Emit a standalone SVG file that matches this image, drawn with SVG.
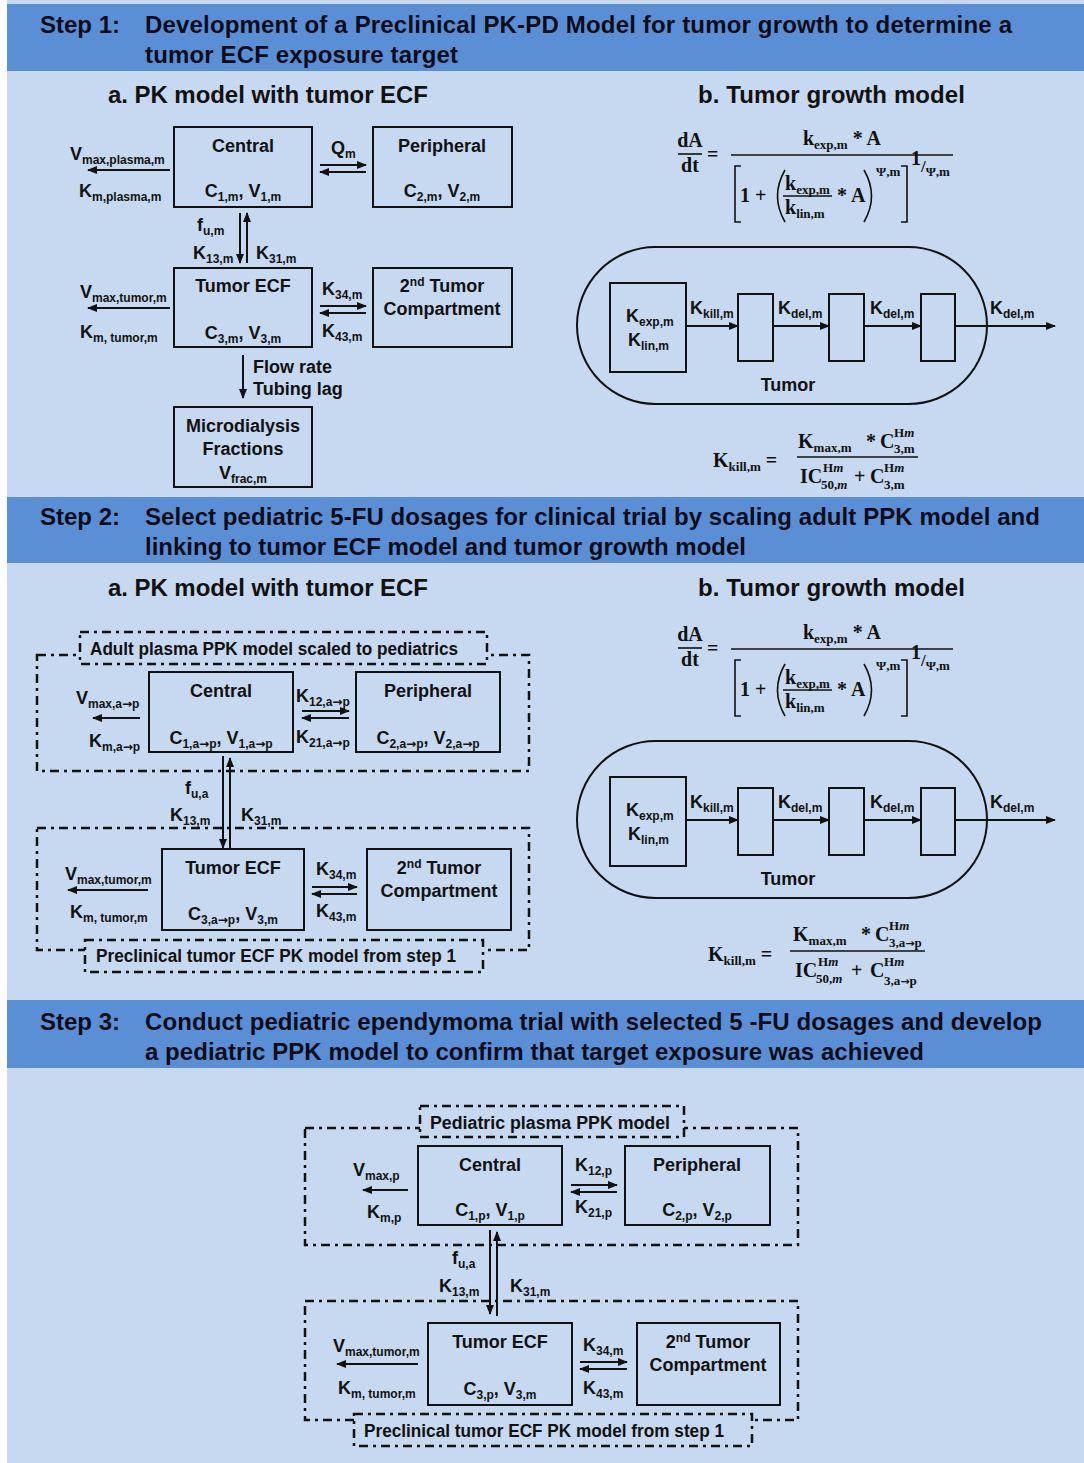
<svg xmlns="http://www.w3.org/2000/svg" width="1084" height="1463" viewBox="0 0 1084 1463">
<defs>
<style>
.bg{fill:#c6d9f0}
.band{fill:#5a8fd6}
.hd{font-family:"Liberation Sans",Arial,sans-serif;font-weight:bold;font-size:24px;fill:#0d0d1a}
.tt{font-family:"Liberation Sans",Arial,sans-serif;font-weight:bold;font-size:24px;fill:#111}
.m{font-family:"Liberation Sans",Arial,sans-serif;font-weight:bold;font-size:18px;fill:#111}
.s{font-size:12px}
.arw{font-family:"DejaVu Sans",sans-serif;font-weight:bold}
.box{fill:none;stroke:#111;stroke-width:2}
.dash{fill:none;stroke:#111;stroke-width:2.5;stroke-dasharray:9 5 3 5}
.dashl{fill:#c6d9f0;stroke:#111;stroke-width:2.5;stroke-dasharray:9 5 3 5}
.ar{fill:none;stroke:#111;stroke-width:2;marker-end:url(#ah)}
.ln{fill:none;stroke:#111;stroke-width:1.6}
.eq{font-family:"Liberation Serif","DejaVu Serif",serif;font-weight:bold;font-size:20px;fill:#111}
.es{font-size:13px}
.it{font-style:italic}
</style>
<marker id="ah" markerUnits="userSpaceOnUse" markerWidth="10" markerHeight="8" refX="9" refY="4" orient="auto">
<path d="M0,0 L10,4 L0,8 z" fill="#111"/>
</marker>
</defs>

<rect x="0" y="0" width="1084" height="1463" fill="#ffffff"/>
<rect class="bg" x="7" y="0" width="1077" height="1463"/>
<rect class="band" x="7" y="4" width="1077" height="67"/>
<rect class="band" x="7" y="497" width="1077" height="66"/>
<rect class="band" x="7" y="1000" width="1077" height="68"/>

<g id="headers">
<text class="hd" x="40" y="33">Step 1:</text>
<text class="hd" x="145" y="33" textLength="867" lengthAdjust="spacing">Development of a Preclinical  PK-PD Model for tumor growth  to determine a</text>
<text class="hd" x="145" y="63" textLength="313" lengthAdjust="spacing">tumor ECF exposure target</text>
<text class="hd" x="40" y="525">Step 2:</text>
<text class="hd" x="145" y="525" textLength="895" lengthAdjust="spacing">Select pediatric 5-FU dosages for clinical trial by scaling adult PPK model and</text>
<text class="hd" x="145" y="555" textLength="601" lengthAdjust="spacing">linking to tumor ECF model and tumor growth model</text>
<text class="hd" x="40" y="1030">Step 3:</text>
<text class="hd" x="145" y="1030" textLength="897" lengthAdjust="spacing">Conduct pediatric ependymoma trial with selected 5 -FU dosages and develop</text>
<text class="hd" x="145" y="1060" textLength="779" lengthAdjust="spacing">a pediatric PPK model to confirm that target exposure was achieved</text>
<text class="tt" x="108" y="103" textLength="320" lengthAdjust="spacing">a. PK model with tumor ECF</text>
<text class="tt" x="698" y="103" textLength="267" lengthAdjust="spacing">b. Tumor growth model</text>
<text class="tt" x="108" y="596" textLength="320" lengthAdjust="spacing">a. PK model with tumor ECF</text>
<text class="tt" x="698" y="596" textLength="267" lengthAdjust="spacing">b. Tumor growth model</text>
</g>

<!-- ===== STEP 1 a ===== -->
<g id="s1-central">
<rect class="box" x="174" y="127" width="138" height="80"/>
<text class="m" x="243" y="152" text-anchor="middle">Central</text>
<text class="m" x="243" y="197" text-anchor="middle">C<tspan class="s" dy="4">1,m</tspan><tspan dy="-4">, V</tspan><tspan class="s" dy="4">1,m</tspan></text>
</g>
<g id="s1-peripheral">
<rect class="box" x="373" y="127" width="139" height="80"/>
<text class="m" x="442" y="152" text-anchor="middle">Peripheral</text>
<text class="m" x="442" y="197" text-anchor="middle">C<tspan class="s" dy="4">2,m</tspan><tspan dy="-4">, V</tspan><tspan class="s" dy="4">2,m</tspan></text>
</g>
<g id="s1-tumorecf">
<rect class="box" x="174" y="268" width="138" height="79"/>
<text class="m" x="243" y="292" text-anchor="middle">Tumor ECF</text>
<text class="m" x="243" y="339" text-anchor="middle">C<tspan class="s" dy="4">3,m</tspan><tspan dy="-4">, V</tspan><tspan class="s" dy="4">3,m</tspan></text>
</g>
<g id="s1-tumor2">
<rect class="box" x="373" y="268" width="139" height="79"/>
<text class="m" x="442" y="292" text-anchor="middle">2<tspan class="s" dy="-6">nd</tspan><tspan dy="6"> Tumor</tspan></text>
<text class="m" x="442" y="315" text-anchor="middle">Compartment</text>
</g>
<g id="s1-micro">
<rect class="box" x="174" y="407" width="138" height="80"/>
<text class="m" x="243" y="432" text-anchor="middle">Microdialysis</text>
<text class="m" x="243" y="455" text-anchor="middle">Fractions</text>
<text class="m" x="243" y="479" text-anchor="middle">V<tspan class="s" dy="4">frac,m</tspan></text>
</g>
<g id="s1-labels">
<text class="m" x="70" y="160">V<tspan class="s" dy="4">max,plasma,m</tspan></text>
<text class="m" x="79" y="197">K<tspan class="s" dy="4">m,plasma,m</tspan></text>
<text class="m" x="331" y="154">Q<tspan class="s" dy="4">m</tspan></text>
<text class="m" x="197" y="231">f<tspan class="s" dy="4">u,m</tspan></text>
<text class="m" x="193" y="259">K<tspan class="s" dy="4">13,m</tspan></text>
<text class="m" x="256" y="259">K<tspan class="s" dy="4">31,m</tspan></text>
<text class="m" x="80" y="298">V<tspan class="s" dy="4">max,tumor,m</tspan></text>
<text class="m" x="80" y="338">K<tspan class="s" dy="4">m, tumor,m</tspan></text>
<text class="m" x="322" y="295">K<tspan class="s" dy="4">34,m</tspan></text>
<text class="m" x="322" y="337">K<tspan class="s" dy="4">43,m</tspan></text>
<text class="m" x="253" y="373">Flow rate</text>
<text class="m" x="253" y="395">Tubing lag</text>
</g>

<!-- ===== STEP 1 b ===== -->
<g id="s1-growth-eq">
<text class="eq" x="690" y="147" font-size="17" text-anchor="middle">dA</text>
<line class="ln" x1="678" y1="154" x2="702" y2="154"/>
<text class="eq" x="690" y="172" font-size="17" text-anchor="middle">dt</text>
<text class="eq" x="707" y="161" font-size="18">=</text>
<text class="eq" x="842" y="145" text-anchor="middle">k<tspan class="es" dy="4">exp,m</tspan><tspan dy="-4"> * A</tspan></text>
<line class="ln" x1="731" y1="155" x2="953" y2="155"/>
<path class="ln" d="M741,166 L735,166 L735,222 L741,222"/>
<text class="eq" x="740" y="202">1 +</text>
<path class="ln" d="M785,170 Q770,196 785,222"/>
<text class="eq" x="785" y="190">k<tspan class="es" dy="4">exp,m</tspan></text>
<line class="ln" x1="783" y1="196" x2="832" y2="196"/>
<text class="eq" x="785" y="214">k<tspan class="es" dy="4">lin,m</tspan></text>
<text class="eq" x="837" y="202">* A</text>
<path class="ln" d="M864,170 Q879,196 864,222"/>
<text class="eq es" x="876" y="176">Ψ,m</text>
<path class="ln" d="M901,166 L907,166 L907,222 L901,222"/>
<text class="eq" x="911" y="165" font-size="14">1<tspan font-size="17" dy="7">/</tspan><tspan class="es" dy="4">Ψ,m</tspan></text>
</g>
<g id="s1-tumor">
<rect x="577" y="247" width="410" height="157" rx="78.5" ry="78.5" fill="none" stroke="#111" stroke-width="2"/>
<rect class="box" x="610" y="283" width="76" height="89"/>
<rect class="box" x="738" y="294" width="35" height="67"/>
<rect class="box" x="829" y="294" width="35" height="67"/>
<rect class="box" x="921" y="294" width="34" height="67"/>
<text class="m" x="626" y="322">K<tspan class="s" dy="4">exp,m</tspan></text>
<text class="m" x="628" y="346">K<tspan class="s" dy="4">lin,m</tspan></text>
<text class="m" x="690" y="314">K<tspan class="s" dy="4">kill,m</tspan></text>
<text class="m" x="778" y="314">K<tspan class="s" dy="4">del,m</tspan></text>
<text class="m" x="870" y="314">K<tspan class="s" dy="4">del,m</tspan></text>
<text class="m" x="990" y="314">K<tspan class="s" dy="4">del,m</tspan></text>
<text class="m" x="788" y="391" text-anchor="middle">Tumor</text>
</g>
<g id="s1-kill-eq">
<text class="eq" x="713" y="467">K<tspan class="es" dy="4">kill,m</tspan><tspan dy="-4"> =</tspan></text>
<text class="eq" x="798" y="448">K<tspan class="es" dy="4">max,m</tspan></text>
<text class="eq" x="866" y="448" font-size="14">*</text>
<text class="eq" x="880" y="448">C</text>
<text class="eq es" x="894" y="437">H<tspan class="it">m</tspan></text>
<text class="eq es" x="894" y="453">3,m</text>
<line class="ln" x1="797" y1="457" x2="918" y2="457"/>
<text class="eq" x="800" y="483">IC</text>
<text class="eq es" x="823" y="472">H<tspan class="it">m</tspan></text>
<text class="eq es" x="821" y="489">50,<tspan class="it">m</tspan></text>
<text class="eq" x="854" y="483">+</text>
<text class="eq" x="870" y="483">C</text>
<text class="eq es" x="884" y="472">H<tspan class="it">m</tspan></text>
<text class="eq es" x="884" y="489">3,m</text>
</g>

<!-- ===== STEP 2 a ===== -->
<g id="s2-adult-group">
<rect class="dash" x="37" y="655" width="492" height="116"/>
<rect class="dashl" x="80" y="632" width="407" height="32"/>
<text class="m" x="90" y="655" textLength="368" lengthAdjust="spacingAndGlyphs">Adult plasma PPK model scaled to pediatrics</text>
</g>
<g id="s2-central">
<rect class="box" x="149" y="672" width="144" height="80"/>
<text class="m" x="221" y="697" text-anchor="middle">Central</text>
<text class="m" x="221" y="744" text-anchor="middle">C<tspan class="s" dy="4">1,a<tspan class="arw">→</tspan>p</tspan><tspan dy="-4">, V</tspan><tspan class="s" dy="4">1,a<tspan class="arw">→</tspan>p</tspan></text>
</g>
<g id="s2-peripheral">
<rect class="box" x="356" y="672" width="144" height="80"/>
<text class="m" x="428" y="697" text-anchor="middle">Peripheral</text>
<text class="m" x="428" y="744" text-anchor="middle">C<tspan class="s" dy="4">2,a<tspan class="arw">→</tspan>p</tspan><tspan dy="-4">, V</tspan><tspan class="s" dy="4">2,a<tspan class="arw">→</tspan>p</tspan></text>
</g>
<g id="s2-tumor-group">
<rect class="dash" x="37" y="828" width="492" height="122"/>
<rect class="dashl" x="85" y="940" width="398" height="32"/>
<text class="m" x="96" y="962" textLength="360" lengthAdjust="spacingAndGlyphs">Preclinical tumor ECF PK model from step 1</text>
</g>
<g id="s2-tumorecf">
<rect class="box" x="162" y="849" width="142" height="81"/>
<text class="m" x="233" y="874" text-anchor="middle">Tumor ECF</text>
<text class="m" x="233" y="920" text-anchor="middle">C<tspan class="s" dy="4">3,a<tspan class="arw">→</tspan>p</tspan><tspan dy="-4">, V</tspan><tspan class="s" dy="4">3,m</tspan></text>
</g>
<g id="s2-tumor2">
<rect class="box" x="367" y="849" width="144" height="81"/>
<text class="m" x="439" y="874" text-anchor="middle">2<tspan class="s" dy="-6">nd</tspan><tspan dy="6"> Tumor</tspan></text>
<text class="m" x="439" y="897" text-anchor="middle">Compartment</text>
</g>
<g id="s2-labels">
<text class="m" x="76" y="704">V<tspan class="s" dy="4">max,a<tspan class="arw">→</tspan>p</tspan></text>
<text class="m" x="89" y="747">K<tspan class="s" dy="4">m,a<tspan class="arw">→</tspan>p</tspan></text>
<text class="m" x="296" y="702">K<tspan class="s" dy="4">12,a<tspan class="arw">→</tspan>p</tspan></text>
<text class="m" x="296" y="743">K<tspan class="s" dy="4">21,a<tspan class="arw">→</tspan>p</tspan></text>
<text class="m" x="185" y="794">f<tspan class="s" dy="4">u,a</tspan></text>
<text class="m" x="170" y="821">K<tspan class="s" dy="4">13,m</tspan></text>
<text class="m" x="241" y="821">K<tspan class="s" dy="4">31,m</tspan></text>
<text class="m" x="65" y="880">V<tspan class="s" dy="4">max,tumor,m</tspan></text>
<text class="m" x="70" y="918">K<tspan class="s" dy="4">m, tumor,m</tspan></text>
<text class="m" x="316" y="875">K<tspan class="s" dy="4">34,m</tspan></text>
<text class="m" x="316" y="917">K<tspan class="s" dy="4">43,m</tspan></text>
</g>

<!-- ===== STEP 2 b ===== -->
<g id="s2-growth-eq" transform="translate(0,494)">
<text class="eq" x="690" y="147" font-size="17" text-anchor="middle">dA</text>
<line class="ln" x1="678" y1="154" x2="702" y2="154"/>
<text class="eq" x="690" y="172" font-size="17" text-anchor="middle">dt</text>
<text class="eq" x="707" y="161" font-size="18">=</text>
<text class="eq" x="842" y="145" text-anchor="middle">k<tspan class="es" dy="4">exp,m</tspan><tspan dy="-4"> * A</tspan></text>
<line class="ln" x1="731" y1="155" x2="953" y2="155"/>
<path class="ln" d="M741,166 L735,166 L735,222 L741,222"/>
<text class="eq" x="740" y="202">1 +</text>
<path class="ln" d="M785,170 Q770,196 785,222"/>
<text class="eq" x="785" y="190">k<tspan class="es" dy="4">exp,m</tspan></text>
<line class="ln" x1="783" y1="196" x2="832" y2="196"/>
<text class="eq" x="785" y="214">k<tspan class="es" dy="4">lin,m</tspan></text>
<text class="eq" x="837" y="202">* A</text>
<path class="ln" d="M864,170 Q879,196 864,222"/>
<text class="eq es" x="876" y="176">Ψ,m</text>
<path class="ln" d="M901,166 L907,166 L907,222 L901,222"/>
<text class="eq" x="911" y="165" font-size="14">1<tspan font-size="17" dy="7">/</tspan><tspan class="es" dy="4">Ψ,m</tspan></text>
</g>
<g id="s2-tumor" transform="translate(0,494)">
<rect x="577" y="247" width="410" height="157" rx="78.5" ry="78.5" fill="none" stroke="#111" stroke-width="2"/>
<rect class="box" x="610" y="283" width="76" height="89"/>
<rect class="box" x="738" y="294" width="35" height="67"/>
<rect class="box" x="829" y="294" width="35" height="67"/>
<rect class="box" x="921" y="294" width="34" height="67"/>
<text class="m" x="626" y="322">K<tspan class="s" dy="4">exp,m</tspan></text>
<text class="m" x="628" y="346">K<tspan class="s" dy="4">lin,m</tspan></text>
<text class="m" x="690" y="314">K<tspan class="s" dy="4">kill,m</tspan></text>
<text class="m" x="778" y="314">K<tspan class="s" dy="4">del,m</tspan></text>
<text class="m" x="870" y="314">K<tspan class="s" dy="4">del,m</tspan></text>
<text class="m" x="990" y="314">K<tspan class="s" dy="4">del,m</tspan></text>
<text class="m" x="788" y="391" text-anchor="middle">Tumor</text>
</g>
<g id="s2-kill-eq">
<text class="eq" x="708" y="961">K<tspan class="es" dy="4">kill,m</tspan><tspan dy="-4"> =</tspan></text>
<text class="eq" x="793" y="941">K<tspan class="es" dy="4">max,m</tspan></text>
<text class="eq" x="861" y="941" font-size="14">*</text>
<text class="eq" x="875" y="941">C</text>
<text class="eq es" x="889" y="930">H<tspan class="it">m</tspan></text>
<text class="eq es" x="889" y="947">3,a<tspan class="arw" font-size="11">→</tspan>p</text>
<line class="ln" x1="790" y1="951" x2="925" y2="951"/>
<text class="eq" x="795" y="977">IC</text>
<text class="eq es" x="818" y="966">H<tspan class="it">m</tspan></text>
<text class="eq es" x="816" y="983">50,<tspan class="it">m</tspan></text>
<text class="eq" x="851" y="977">+</text>
<text class="eq" x="870" y="977">C</text>
<text class="eq es" x="884" y="966">H<tspan class="it">m</tspan></text>
<text class="eq es" x="884" y="985">3,a<tspan class="arw" font-size="11">→</tspan>p</text>
</g>

<!-- ===== STEP 3 ===== -->
<g id="s3-ped-group">
<rect class="dash" x="305" y="1128" width="493" height="117"/>
<rect class="dashl" x="420" y="1106" width="264" height="31"/>
<text class="m" x="430" y="1129" textLength="240" lengthAdjust="spacingAndGlyphs">Pediatric plasma  PPK model</text>
</g>
<g id="s3-central">
<rect class="box" x="418" y="1146" width="144" height="79"/>
<text class="m" x="490" y="1171" text-anchor="middle">Central</text>
<text class="m" x="490" y="1216" text-anchor="middle">C<tspan class="s" dy="4">1,p</tspan><tspan dy="-4">, V</tspan><tspan class="s" dy="4">1,p</tspan></text>
</g>
<g id="s3-peripheral">
<rect class="box" x="625" y="1146" width="145" height="79"/>
<text class="m" x="697" y="1171" text-anchor="middle">Peripheral</text>
<text class="m" x="697" y="1216" text-anchor="middle">C<tspan class="s" dy="4">2,p</tspan><tspan dy="-4">, V</tspan><tspan class="s" dy="4">2,p</tspan></text>
</g>
<g id="s3-tumor-group">
<rect class="dash" x="305" y="1301" width="493" height="119"/>
<rect class="dashl" x="354" y="1414" width="398" height="32"/>
<text class="m" x="364" y="1437" textLength="360" lengthAdjust="spacingAndGlyphs">Preclinical tumor ECF PK model from step 1</text>
</g>
<g id="s3-tumorecf">
<rect class="box" x="428" y="1323" width="144" height="82"/>
<text class="m" x="500" y="1348" text-anchor="middle">Tumor ECF</text>
<text class="m" x="500" y="1395" text-anchor="middle">C<tspan class="s" dy="4">3,p</tspan><tspan dy="-4">, V</tspan><tspan class="s" dy="4">3,m</tspan></text>
</g>
<g id="s3-tumor2">
<rect class="box" x="637" y="1323" width="143" height="82"/>
<text class="m" x="708" y="1348" text-anchor="middle">2<tspan class="s" dy="-6">nd</tspan><tspan dy="6"> Tumor</tspan></text>
<text class="m" x="708" y="1371" text-anchor="middle">Compartment</text>
</g>
<g id="s3-labels">
<text class="m" x="353" y="1176">V<tspan class="s" dy="4">max,p</tspan></text>
<text class="m" x="367" y="1218">K<tspan class="s" dy="4">m,p</tspan></text>
<text class="m" x="575" y="1171">K<tspan class="s" dy="4">12,p</tspan></text>
<text class="m" x="575" y="1213">K<tspan class="s" dy="4">21,p</tspan></text>
<text class="m" x="452" y="1264">f<tspan class="s" dy="4">u,a</tspan></text>
<text class="m" x="439" y="1292">K<tspan class="s" dy="4">13,m</tspan></text>
<text class="m" x="510" y="1292">K<tspan class="s" dy="4">31,m</tspan></text>
<text class="m" x="333" y="1352">V<tspan class="s" dy="4">max,tumor,m</tspan></text>
<text class="m" x="338" y="1394">K<tspan class="s" dy="4">m, tumor,m</tspan></text>
<text class="m" x="583" y="1351">K<tspan class="s" dy="4">34,m</tspan></text>
<text class="m" x="583" y="1394">K<tspan class="s" dy="4">43,m</tspan></text>
</g>

<!-- ===== CONNECTORS ===== -->
<g id="connectors">
<line class="ar" x1="170" y1="170" x2="88" y2="170"/>
<line class="ar" x1="320" y1="165" x2="366" y2="165"/>
<line class="ar" x1="366" y1="172" x2="320" y2="172"/>
<line class="ar" x1="240" y1="213" x2="240" y2="263"/>
<line class="ar" x1="247" y1="263" x2="247" y2="213"/>
<line class="ar" x1="170" y1="308" x2="88" y2="308"/>
<line class="ar" x1="320" y1="306" x2="366" y2="306"/>
<line class="ar" x1="366" y1="313" x2="320" y2="313"/>
<line class="ar" x1="243" y1="355" x2="243" y2="398"/>
<line class="ar" x1="686" y1="326" x2="738" y2="326"/>
<line class="ar" x1="773" y1="326" x2="829" y2="326"/>
<line class="ar" x1="864" y1="326" x2="921" y2="326"/>
<line class="ar" x1="955" y1="326" x2="1055" y2="326"/>
<line class="ar" x1="140" y1="718" x2="93" y2="718"/>
<line class="ar" x1="302" y1="711" x2="349" y2="711"/>
<line class="ar" x1="349" y1="718" x2="302" y2="718"/>
<line class="ar" x1="223" y1="756" x2="223" y2="848"/>
<line class="ar" x1="230" y1="850" x2="230" y2="758"/>
<line class="ar" x1="148" y1="890" x2="68" y2="890"/>
<line class="ar" x1="312" y1="887" x2="357" y2="887"/>
<line class="ar" x1="357" y1="894" x2="312" y2="894"/>
<line class="ar" x1="686" y1="820" x2="738" y2="820"/>
<line class="ar" x1="773" y1="820" x2="829" y2="820"/>
<line class="ar" x1="864" y1="820" x2="921" y2="820"/>
<line class="ar" x1="955" y1="820" x2="1055" y2="820"/>
<line class="ar" x1="408" y1="1190" x2="363" y2="1190"/>
<line class="ar" x1="571" y1="1185" x2="617" y2="1185"/>
<line class="ar" x1="617" y1="1192" x2="571" y2="1192"/>
<line class="ar" x1="490" y1="1230" x2="490" y2="1314"/>
<line class="ar" x1="497" y1="1316" x2="497" y2="1232"/>
<line class="ar" x1="418" y1="1364" x2="337" y2="1364"/>
<line class="ar" x1="580" y1="1362" x2="627" y2="1362"/>
<line class="ar" x1="627" y1="1369" x2="580" y2="1369"/>
</g>
</svg>
